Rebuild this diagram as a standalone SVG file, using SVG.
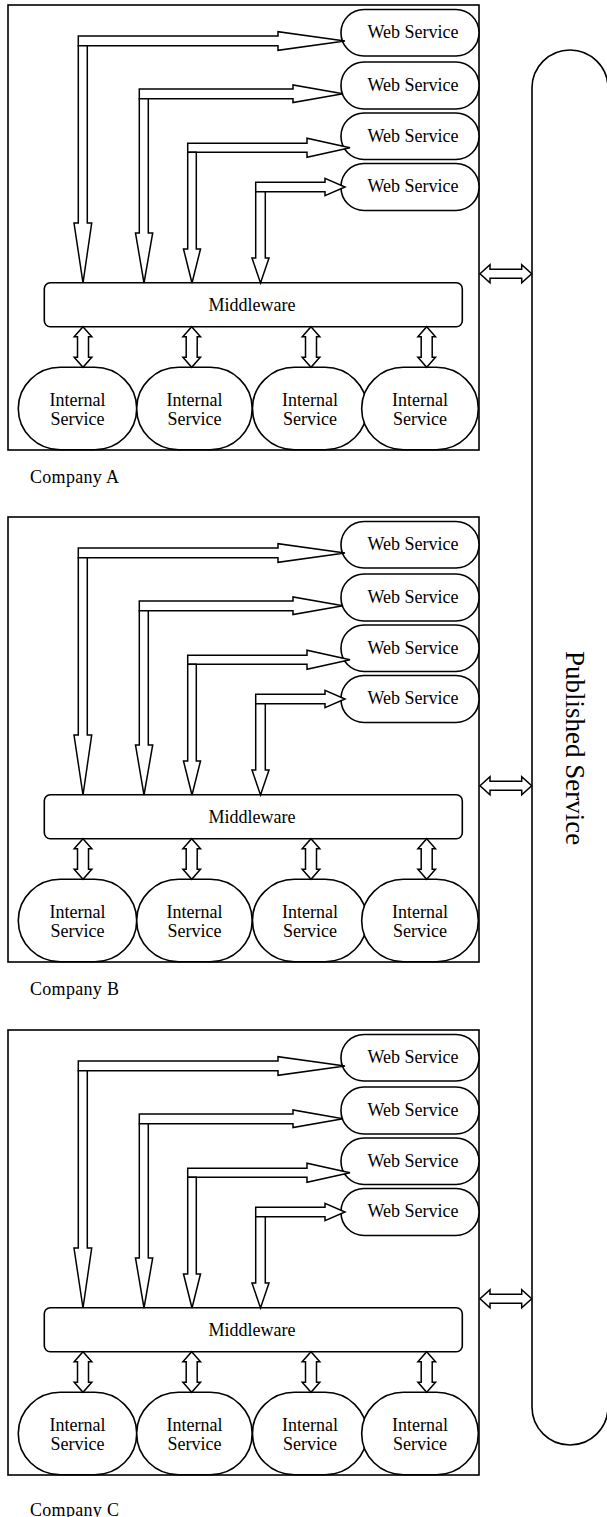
<svg xmlns="http://www.w3.org/2000/svg" width="607" height="1517" viewBox="0 0 607 1517">
  <style>
    .box { fill: none; stroke: #000; stroke-width: 1.6; }
    .node { fill: #fff; stroke: #000; stroke-width: 1.6; }
    .arrow { fill: #fff; stroke: #000; stroke-width: 1.5; stroke-linejoin: miter; }
    .lbl { font-family: "Liberation Serif", "Times New Roman", serif; font-size: 18px; fill: #000; text-anchor: middle; }
    .cap { font-family: "Liberation Serif", "Times New Roman", serif; font-size: 18px; fill: #000; letter-spacing: 0.3px; }
    .pub { font-family: "Liberation Serif", "Times New Roman", serif; font-size: 27px; fill: #000; text-anchor: middle; }
  </style>
  <defs>
    <!-- two-headed block arrow, vertical, 40.6 long, centred on x=0 -->
    <polygon id="dbl-v" points="0,0 8.8,10 5.5,10 5.5,30.6 8.8,30.6 0,40.6 -8.8,30.6 -5.5,30.6 -5.5,10 -8.8,10"/>
    <!-- two-headed block arrow, horizontal, centred on y=0 -->
    <polygon id="dbl-h" points="0,0 10,-9 10,-4.5 41.7,-4.5 41.7,-9 51.7,0 41.7,9 41.7,4.5 10,4.5 10,9"/>
  </defs>

  <rect width="607" height="1517" fill="#fff"/>

  <!-- shared published service bus -->
  <g id="published-service">
    <rect class="node" x="532" y="50" width="76" height="1395" rx="38" ry="38"/>
    <text class="pub" transform="translate(566,748) rotate(90)" x="0" y="0">Published Service</text>
  </g>

  <!-- ===== Company A ===== -->
  <g id="company-a">
    <rect class="box" x="8" y="5" width="471" height="445"/>
    <text class="cap" x="30" y="482.7">Company A</text>
    <g id="a-ws1"><rect class="node" x="341" y="9.5" width="138" height="46.5" rx="23" ry="23"/><text class="lbl" x="413" y="38">Web Service</text></g>
    <g id="a-ws2"><rect class="node" x="341" y="62" width="138" height="47" rx="23" ry="23"/><text class="lbl" x="413" y="90.5">Web Service</text></g>
    <g id="a-ws3"><rect class="node" x="341" y="113" width="138" height="46.5" rx="23" ry="23"/><text class="lbl" x="413" y="141.5">Web Service</text></g>
    <g id="a-ws4"><rect class="node" x="341" y="163.5" width="138" height="47" rx="23" ry="23"/><text class="lbl" x="413" y="192">Web Service</text></g>
    <g id="a-middleware"><rect class="node" x="44.3" y="282.7" width="418" height="44" rx="6" ry="6"/><text class="lbl" x="252" y="311">Middleware</text></g>
    <g id="a-is1"><rect class="node" x="18.3" y="367.3" width="118.4" height="82.5" rx="42" ry="41"/><text class="lbl" x="77.5" y="405.5">Internal</text><text class="lbl" x="77.5" y="425">Service</text></g>
    <g id="a-is2"><rect class="node" x="136.7" y="367.3" width="115.5" height="82.5" rx="42" ry="41"/><text class="lbl" x="194.5" y="405.5">Internal</text><text class="lbl" x="194.5" y="425">Service</text></g>
    <g id="a-is3"><rect class="node" x="252.5" y="367.3" width="114.5" height="82.5" rx="42" ry="41"/><text class="lbl" x="310" y="405.5">Internal</text><text class="lbl" x="310" y="425">Service</text></g>
    <g id="a-is4"><rect class="node" x="361.7" y="367.3" width="116.6" height="82.5" rx="42" ry="41"/><text class="lbl" x="420" y="405.5">Internal</text><text class="lbl" x="420" y="425">Service</text></g>
  </g>

  <!-- ===== Company B ===== -->
  <g id="company-b" transform="translate(0,512)">
    <rect class="box" x="8" y="5" width="471" height="445"/>
    <text class="cap" x="30" y="482.7">Company B</text>
    <g id="b-ws1"><rect class="node" x="341" y="9.5" width="138" height="46.5" rx="23" ry="23"/><text class="lbl" x="413" y="38">Web Service</text></g>
    <g id="b-ws2"><rect class="node" x="341" y="62" width="138" height="47" rx="23" ry="23"/><text class="lbl" x="413" y="90.5">Web Service</text></g>
    <g id="b-ws3"><rect class="node" x="341" y="113" width="138" height="46.5" rx="23" ry="23"/><text class="lbl" x="413" y="141.5">Web Service</text></g>
    <g id="b-ws4"><rect class="node" x="341" y="163.5" width="138" height="47" rx="23" ry="23"/><text class="lbl" x="413" y="192">Web Service</text></g>
    <g id="b-middleware"><rect class="node" x="44.3" y="282.7" width="418" height="44" rx="6" ry="6"/><text class="lbl" x="252" y="311">Middleware</text></g>
    <g id="b-is1"><rect class="node" x="18.3" y="367.3" width="118.4" height="82.5" rx="42" ry="41"/><text class="lbl" x="77.5" y="405.5">Internal</text><text class="lbl" x="77.5" y="425">Service</text></g>
    <g id="b-is2"><rect class="node" x="136.7" y="367.3" width="115.5" height="82.5" rx="42" ry="41"/><text class="lbl" x="194.5" y="405.5">Internal</text><text class="lbl" x="194.5" y="425">Service</text></g>
    <g id="b-is3"><rect class="node" x="252.5" y="367.3" width="114.5" height="82.5" rx="42" ry="41"/><text class="lbl" x="310" y="405.5">Internal</text><text class="lbl" x="310" y="425">Service</text></g>
    <g id="b-is4"><rect class="node" x="361.7" y="367.3" width="116.6" height="82.5" rx="42" ry="41"/><text class="lbl" x="420" y="405.5">Internal</text><text class="lbl" x="420" y="425">Service</text></g>
  </g>

  <!-- ===== Company C ===== -->
  <g id="company-c" transform="translate(0,1025)">
    <rect class="box" x="8" y="5" width="471" height="445"/>
    <text class="cap" x="30" y="490.5">Company C</text>
    <g id="c-ws1"><rect class="node" x="341" y="9.5" width="138" height="46.5" rx="23" ry="23"/><text class="lbl" x="413" y="38">Web Service</text></g>
    <g id="c-ws2"><rect class="node" x="341" y="62" width="138" height="47" rx="23" ry="23"/><text class="lbl" x="413" y="90.5">Web Service</text></g>
    <g id="c-ws3"><rect class="node" x="341" y="113" width="138" height="46.5" rx="23" ry="23"/><text class="lbl" x="413" y="141.5">Web Service</text></g>
    <g id="c-ws4"><rect class="node" x="341" y="163.5" width="138" height="47" rx="23" ry="23"/><text class="lbl" x="413" y="192">Web Service</text></g>
    <g id="c-middleware"><rect class="node" x="44.3" y="282.7" width="418" height="44" rx="6" ry="6"/><text class="lbl" x="252" y="311">Middleware</text></g>
    <g id="c-is1"><rect class="node" x="18.3" y="367.3" width="118.4" height="82.5" rx="42" ry="41"/><text class="lbl" x="77.5" y="405.5">Internal</text><text class="lbl" x="77.5" y="425">Service</text></g>
    <g id="c-is2"><rect class="node" x="136.7" y="367.3" width="115.5" height="82.5" rx="42" ry="41"/><text class="lbl" x="194.5" y="405.5">Internal</text><text class="lbl" x="194.5" y="425">Service</text></g>
    <g id="c-is3"><rect class="node" x="252.5" y="367.3" width="114.5" height="82.5" rx="42" ry="41"/><text class="lbl" x="310" y="405.5">Internal</text><text class="lbl" x="310" y="425">Service</text></g>
    <g id="c-is4"><rect class="node" x="361.7" y="367.3" width="116.6" height="82.5" rx="42" ry="41"/><text class="lbl" x="420" y="405.5">Internal</text><text class="lbl" x="420" y="425">Service</text></g>
  </g>

  <!-- ===== connectors ===== -->
  <g id="connectors">
    <g id="company-arrows">
      <!-- one block-arrow set per company, same layout shifted down -->
      <g id="arrows-a">
        <polygon class="arrow" points="78.3,36 278,36 278,31.7 345,41 278,50.3 278,45.7 78.3,45.7"/>
        <polygon class="arrow" points="78.3,45.7 87.3,45.7 87.3,223 91.7,223 83,283 74,223 78.3,223"/>
        <polygon class="arrow" points="139.3,89 293,89 293,85 343,93.8 293,102.6 293,98.7 139.3,98.7"/>
        <polygon class="arrow" points="139.3,98.7 148.3,98.7 148.3,233 152.7,233 144,283 135.5,233 139.3,233"/>
        <polygon class="arrow" points="187.7,143.3 307,143.3 307,138.3 350,147.8 307,157.3 307,152.3 187.7,152.3"/>
        <polygon class="arrow" points="187.7,152.3 196.3,152.3 196.3,249 200.5,249 192,283 183.5,249 187.7,249"/>
        <polygon class="arrow" points="255.7,182.3 325,182.3 325,178.3 345,187 325,195.7 325,191.7 255.7,191.7"/>
        <polygon class="arrow" points="255.7,191.7 265.3,191.7 265.3,258 269,258 260.5,283 252,258 255.7,258"/>
        <use href="#dbl-v" class="arrow" x="83" y="326.7"/>
        <use href="#dbl-v" class="arrow" x="191.7" y="326.7"/>
        <use href="#dbl-v" class="arrow" x="311" y="326.7"/>
        <use href="#dbl-v" class="arrow" x="426.7" y="326.7"/>
        <use href="#dbl-h" class="arrow" x="480" y="273.7"/>
      </g>
      <use href="#arrows-a" y="512"/>
      <use href="#arrows-a" y="1025"/>
    </g>
  </g>
</svg>
